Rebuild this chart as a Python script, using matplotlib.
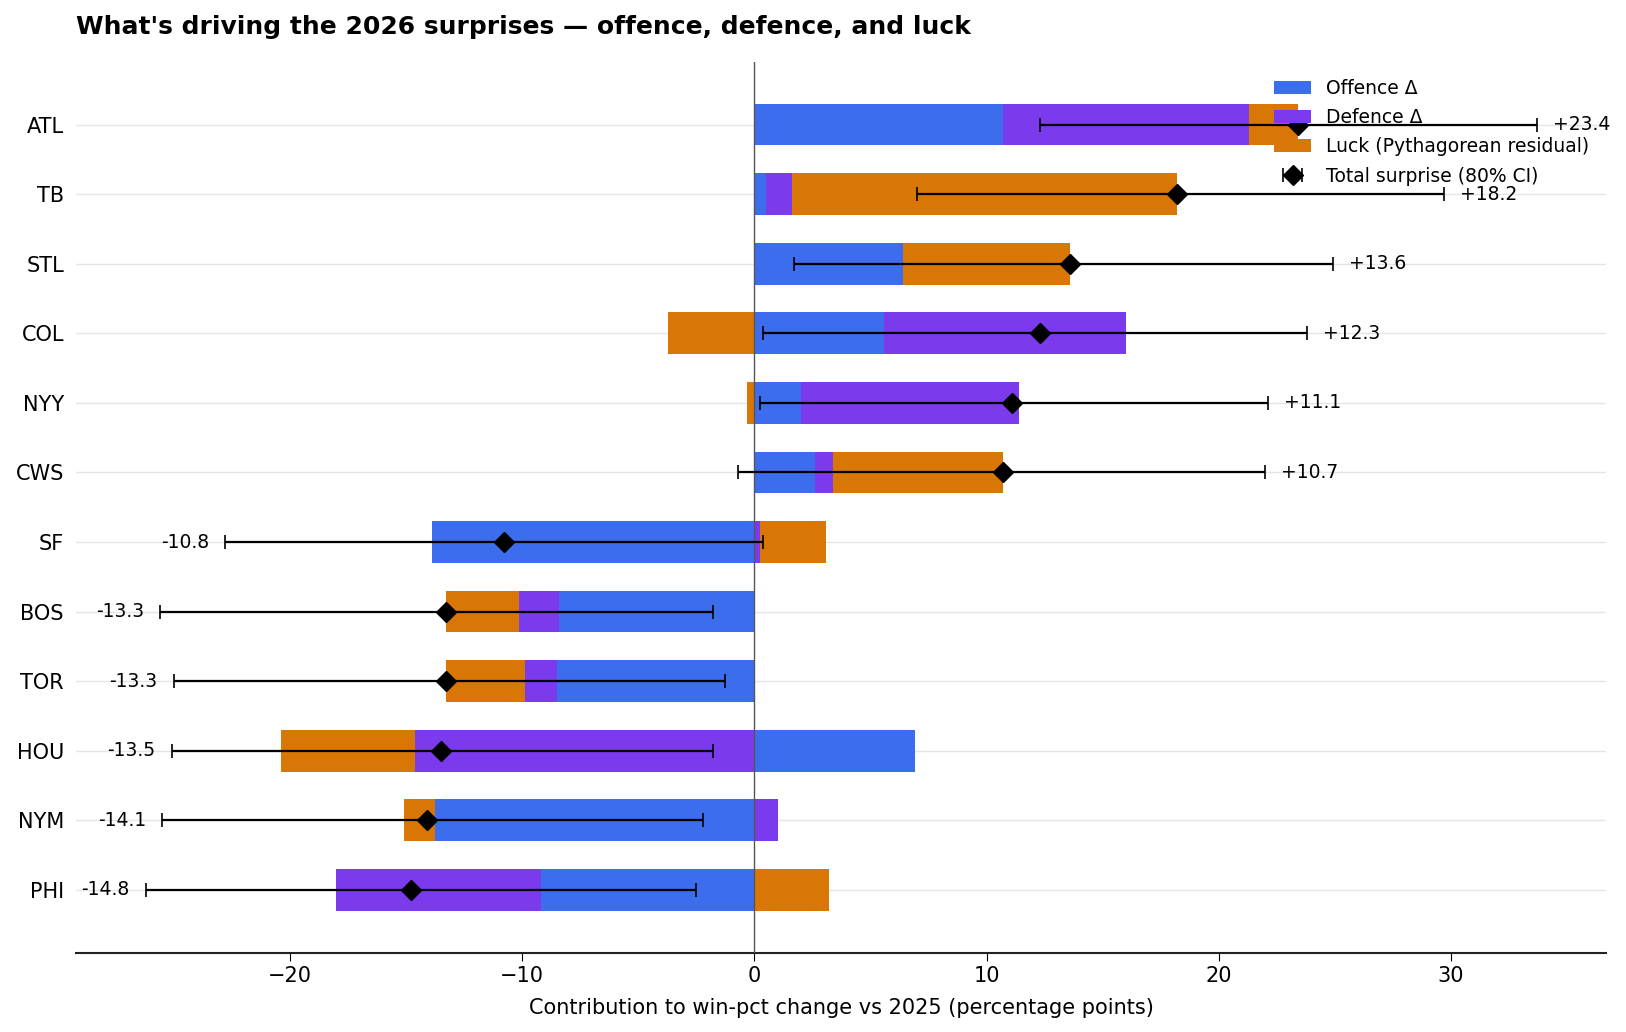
import matplotlib.pyplot as plt
import numpy as np

# surprise decomposition, percentage points of win-pct vs 2025
teams = ['ATL', 'TB', 'STL', 'COL', 'NYY', 'CWS', 'SF', 'BOS', 'TOR', 'HOU', 'NYM', 'PHI']
offence = [10.7, 0.5, 6.4, 5.6, 2.0, 2.6, -13.9, -8.4, -8.5, 6.9, -13.75, -9.2]
defence = [10.6, 1.1, 0.0, 10.4, 9.4, 0.8, 0.25, -1.75, -1.4, -14.6, 1.0, -8.8]
luck = [2.1, 16.6, 7.2, -3.7, -0.3, 7.3, 2.85, -3.15, -3.4, -5.8, -1.35, 3.2]
total = [23.4, 18.2, 13.6, 12.3, 11.1, 10.7, -10.8, -13.3, -13.3, -13.5, -14.1, -14.8]
ci_lo = [12.3, 7.0, 1.7, 0.35, 0.25, -0.7, -22.8, -25.6, -25.0, -25.1, -25.5, -26.2]
ci_hi = [33.7, 29.7, 24.9, 23.8, 22.1, 22.0, 0.35, -1.8, -1.25, -1.8, -2.2, -2.5]

col_off = '#3b6ded'
col_def = '#7c3aed'
col_luck = '#d97706'

fig, ax = plt.subplots(figsize=(16.26, 10.32), dpi=100)
fig.subplots_adjust(left=0.047, right=0.988, top=0.94, bottom=0.077)

y = np.arange(len(teams))
pos_base = np.zeros(len(teams))
neg_base = np.zeros(len(teams))
for vals, c, lab in [(offence, col_off, 'Offence Δ'),
                     (defence, col_def, 'Defence Δ'),
                     (luck, col_luck, 'Luck (Pythagorean residual)')]:
    vals = np.array(vals)
    left = np.where(vals >= 0, pos_base, neg_base)
    ax.barh(y, vals, left=left, height=0.6, color=c, label=lab, zorder=2)
    pos_base = pos_base + np.where(vals >= 0, vals, 0)
    neg_base = neg_base + np.where(vals < 0, vals, 0)

total = np.array(total)
ci_lo = np.array(ci_lo)
ci_hi = np.array(ci_hi)
ax.errorbar(total, y, xerr=[total - ci_lo, ci_hi - total], fmt='D', color='black',
            markersize=10, capsize=5, elinewidth=1.6, capthick=1.2, zorder=4,
            label='Total surprise (80% CI)')

for i in range(len(teams)):
    if total[i] >= 0:
        ax.text(ci_hi[i] + 0.7, y[i], '+%.1f' % total[i], va='center', ha='left', fontsize=13.5)
    else:
        ax.text(ci_lo[i] - 0.7, y[i], '%.1f' % total[i], va='center', ha='right', fontsize=13.5)

ax.axvline(0, color='#555555', linewidth=1, zorder=3)
ax.set_yticks(y)
ax.set_yticklabels(teams, fontsize=15)
ax.set_ylim(11.9, -0.9)
ax.set_xlim(-29.2, 36.7)
ax.tick_params(axis='y', length=0, pad=9)
ax.tick_params(axis='x', labelsize=15, length=6)
ax.grid(axis='y', color='#e5e5e5', linewidth=1, zorder=0)
ax.set_axisbelow(True)
for s in ['top', 'right', 'left']:
    ax.spines[s].set_visible(False)
ax.spines['bottom'].set_linewidth(1.5)
ax.spines['bottom'].set_color('#222222')

ax.set_xlabel('Contribution to win-pct change vs 2025 (percentage points)', fontsize=15, labelpad=9)
ax.set_title("What's driving the 2026 surprises — offence, defence, and luck",
             loc='left', fontsize=18, fontweight='bold', pad=20)
ax.legend(loc='upper right', frameon=False, fontsize=13.5, labelspacing=0.55)

plt.savefig('out.png')
